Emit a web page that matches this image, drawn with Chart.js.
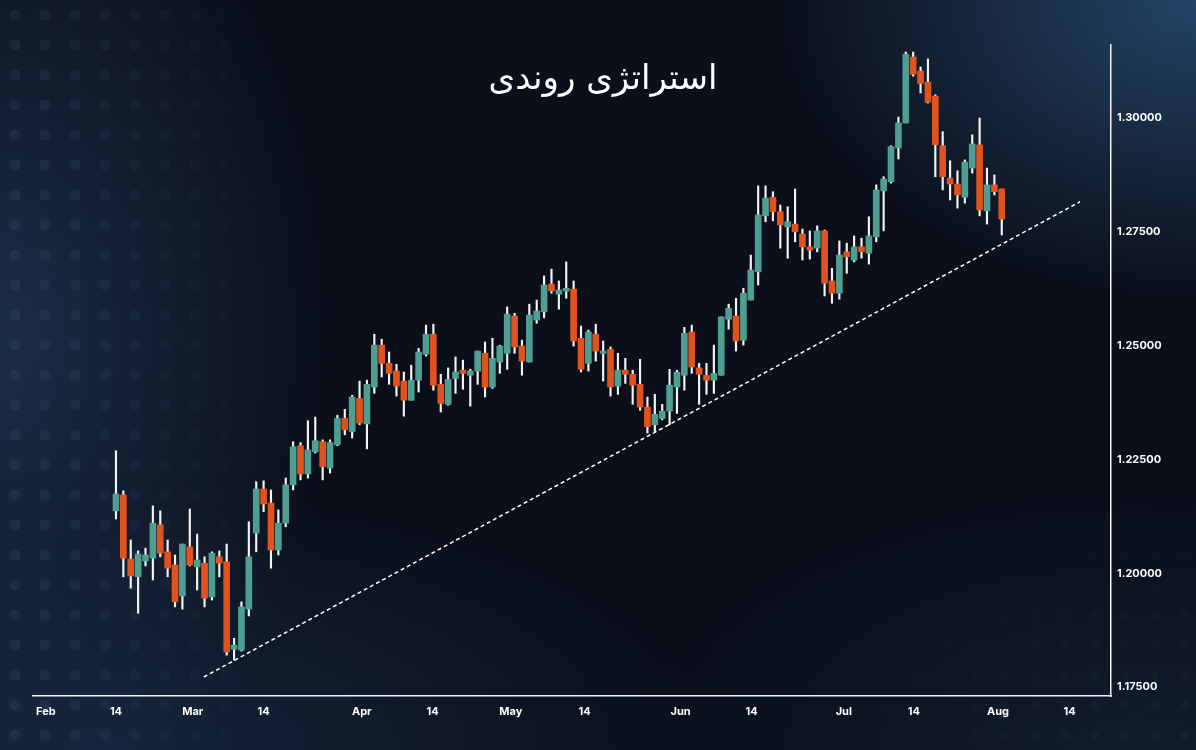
<!DOCTYPE html>
<html>
<head>
<meta charset="utf-8">
<script src="https://cdn.jsdelivr.net/npm/chart.js@4.4.1/dist/chart.umd.min.js"></script>
<style>
    html, body { margin: 0; padding: 0; }
    body {
        width: 1196px;
        height: 750px;
        overflow: hidden;
        position: relative;
        background:
            radial-gradient(ellipse 420px 300px at 100% 0%, rgba(42, 80, 120, 0.8), transparent),
            radial-gradient(ellipse 330px 520px at 0% 45%, rgba(30, 52, 80, 0.8), transparent),
            radial-gradient(ellipse 600px 260px at 10% 100%, rgba(24, 44, 70, 0.7), transparent),
            radial-gradient(ellipse 500px 260px at 95% 100%, rgba(20, 36, 58, 0.6), transparent),
            #0a0f1a;
    }
    .dots {
        position: absolute;
        inset: 0;
        background-image: radial-gradient(circle, rgba(120, 160, 200, 0.10) 5px, transparent 6px);
        background-size: 30px 30px;
        -webkit-mask-image: linear-gradient(90deg, rgba(0,0,0,1) 0px, rgba(0,0,0,0.5) 150px, transparent 280px);
        mask-image: linear-gradient(90deg, rgba(0,0,0,1) 0px, rgba(0,0,0,0.5) 150px, transparent 280px);
    }
    .dots2 {
        position: absolute;
        inset: 0;
        background-image: radial-gradient(circle, rgba(120, 160, 200, 0.06) 4px, transparent 5px);
        background-size: 30px 30px;
        -webkit-mask-image: radial-gradient(ellipse 380px 260px at 100% 100%, #000, transparent);
        mask-image: radial-gradient(ellipse 380px 260px at 100% 100%, #000, transparent);
    }
    #title {
        position: absolute;
        left: 0;
        width: 1206px;
        top: 57px;
        text-align: center;
        color: #ffffff;
        font-family: "DejaVu Sans", "Noto Sans", sans-serif;
        font-size: 34px;
        direction: rtl;
        z-index: 2;
    }
    canvas { position: absolute; left: 0; top: 0; z-index: 1; }
</style>
</head>
<body>
<div class="dots"></div>
<div class="dots2"></div>
<div id="title">استراتژی روندی</div>
<canvas id="chart" width="1196" height="750"></canvas>
<script>
// daily candles, index 0 = Feb 14
const opens = [
    1.2137, 1.2172, 1.2031, 1.1992, 1.2027, 1.2033, 1.2106, 1.2047, 1.2018, 1.1950,
    1.2058, 1.2014, 1.2022, 1.1948, 1.2036, 1.2025, 1.1833, 1.1831, 1.1921, 1.2088,
    1.2185, 1.2154, 1.2051, 1.2110, 1.2194, 1.2280, 1.2218, 1.2267, 1.2289, 1.2231,
    1.2282, 1.2340, 1.2311, 1.2384, 1.2328, 1.2409, 1.2501, 1.2461, 1.2444, 1.2422,
    1.2380, 1.2424, 1.2481, 1.2525, 1.2415, 1.2371, 1.2428, 1.2446, 1.2435, 1.2444,
    1.2483, 1.2409, 1.2464, 1.2483, 1.2565, 1.2499, 1.2464, 1.2556, 1.2574, 1.2635,
    1.2613, 1.2620, 1.2624, 1.2516, 1.2461, 1.2525, 1.2483, 1.2492, 1.2411, 1.2446,
    1.2437, 1.2415, 1.2365, 1.2326, 1.2340, 1.2356, 1.2409, 1.2435, 1.2530, 1.2451,
    1.2435, 1.2424, 1.2435, 1.2558, 1.2565, 1.2512, 1.2600, 1.2662, 1.2785, 1.2826,
    1.2794, 1.2761, 1.2767, 1.2745, 1.2717, 1.2714, 1.2752, 1.2642, 1.2615, 1.2706,
    1.2688, 1.2717, 1.2703, 1.2739, 1.2840, 1.2860, 1.2934, 1.2989, 1.3134, 1.3103,
    1.3079, 1.3048, 1.2939, 1.2868, 1.2855, 1.2826, 1.2890, 1.2941, 1.2796, 1.2853,
    1.2844
];
const highs = [
    1.2269, 1.2181, 1.2073, 1.2049, 1.2055, 1.2148, 1.2137, 1.2073, 1.2040, 1.2064,
    1.2141, 1.2086, 1.2036, 1.2047, 1.2049, 1.2064, 1.1857, 1.1937, 1.2113, 1.2201,
    1.2203, 1.2183, 1.2139, 1.2209, 1.2289, 1.2287, 1.2335, 1.2343, 1.2293, 1.2293,
    1.2347, 1.2360, 1.2391, 1.2422, 1.2424, 1.2525, 1.2514, 1.2486, 1.2459, 1.2442,
    1.2457, 1.2494, 1.2545, 1.2547, 1.2437, 1.2451, 1.2475, 1.2468, 1.2448, 1.2488,
    1.2508, 1.2516, 1.2501, 1.2585, 1.2571, 1.2512, 1.2591, 1.2600, 1.2653, 1.2668,
    1.2642, 1.2684, 1.2642, 1.2543, 1.2534, 1.2547, 1.2510, 1.2497, 1.2483, 1.2472,
    1.2446, 1.2470, 1.2387, 1.2393, 1.2371, 1.2448, 1.2446, 1.2540, 1.2545, 1.2461,
    1.2461, 1.2501, 1.2563, 1.2591, 1.2604, 1.2626, 1.2699, 1.2851, 1.2851, 1.2838,
    1.2809, 1.2805, 1.2844, 1.2756, 1.2752, 1.2763, 1.2754, 1.2670, 1.2730, 1.2725,
    1.2741, 1.2736, 1.2783, 1.2853, 1.2871, 1.2939, 1.3002, 1.3145, 1.3145, 1.3112,
    1.3130, 1.3051, 1.2970, 1.2906, 1.2884, 1.2908, 1.2963, 1.3000, 1.2890, 1.2875,
    1.2844
];
const lows = [
    1.2119, 1.1992, 1.1967, 1.1912, 1.2016, 1.1985, 1.2036, 1.1992, 1.1926, 1.1921,
    1.2016, 1.1963, 1.1926, 1.1941, 1.1992, 1.1820, 1.1809, 1.1829, 1.1906, 1.2047,
    1.2135, 1.2011, 1.2040, 1.2102, 1.2183, 1.2205, 1.2209, 1.2264, 1.2205, 1.2220,
    1.2280, 1.2304, 1.2297, 1.2326, 1.2273, 1.2395, 1.2431, 1.2415, 1.2389, 1.2345,
    1.2380, 1.2398, 1.2477, 1.2402, 1.2354, 1.2369, 1.2395, 1.2404, 1.2367, 1.2415,
    1.2387, 1.2406, 1.2439, 1.2448, 1.2483, 1.2435, 1.2464, 1.2549, 1.2561, 1.2615,
    1.2580, 1.2604, 1.2499, 1.2442, 1.2444, 1.2466, 1.2422, 1.2389, 1.2393, 1.2417,
    1.2371, 1.2358, 1.2308, 1.2311, 1.2337, 1.2326, 1.2351, 1.2402, 1.2439, 1.2371,
    1.2393, 1.2395, 1.2435, 1.2536, 1.2488, 1.2501, 1.2600, 1.2633, 1.2772, 1.2774,
    1.2714, 1.2692, 1.2728, 1.2688, 1.2690, 1.2706, 1.2609, 1.2593, 1.2602, 1.2659,
    1.2684, 1.2692, 1.2679, 1.2728, 1.2752, 1.2857, 1.2910, 1.2989, 1.3092, 1.3055,
    1.3033, 1.2871, 1.2842, 1.2820, 1.2802, 1.2813, 1.2879, 1.2785, 1.2767, 1.2831,
    1.2743
];
const closes = [
    1.2174, 1.2033, 1.1994, 1.2042, 1.2040, 1.2110, 1.2044, 1.2011, 1.1937, 1.2064,
    1.2018, 1.2029, 1.1945, 1.2044, 1.2022, 1.1827, 1.1842, 1.1926, 1.2036, 1.2185,
    1.2152, 1.2051, 1.2110, 1.2194, 1.2278, 1.2218, 1.2271, 1.2291, 1.2234, 1.2287,
    1.2340, 1.2315, 1.2387, 1.2330, 1.2415, 1.2501, 1.2461, 1.2439, 1.2411, 1.2380,
    1.2424, 1.2486, 1.2525, 1.2413, 1.2373, 1.2426, 1.2442, 1.2439, 1.2444, 1.2488,
    1.2409, 1.2472, 1.2499, 1.2569, 1.2497, 1.2466, 1.2567, 1.2576, 1.2633, 1.2620,
    1.2622, 1.2626, 1.2510, 1.2448, 1.2530, 1.2488, 1.2488, 1.2409, 1.2446, 1.2437,
    1.2413, 1.2365, 1.2322, 1.2349, 1.2356, 1.2413, 1.2442, 1.2527, 1.2453, 1.2437,
    1.2424, 1.2439, 1.2563, 1.2582, 1.2510, 1.2615, 1.2666, 1.2787, 1.2824, 1.2794,
    1.2765, 1.2772, 1.2750, 1.2717, 1.2710, 1.2752, 1.2637, 1.2615, 1.2699, 1.2695,
    1.2717, 1.2706, 1.2741, 1.2842, 1.2866, 1.2937, 1.2989, 1.3140, 1.3096, 1.3076,
    1.3035, 1.2941, 1.2871, 1.2855, 1.2831, 1.2903, 1.2943, 1.2798, 1.2853, 1.2838,
    1.2778
];

// trend line end points (candle index, price)
const trendX = [11.9, 130.6];
const trendY = [1.1772, 1.2816];

// x axis ticks (candle index) and their labels
const xTickPos = [-9.5, 0, 10.4, 20.0, 33.3, 42.9, 53.5, 63.5, 76.5, 86.1, 98.6, 108.1, 119.5, 129.2];
const xTickLabels = ["Feb", "14", "Mar", "14", "Apr", "14", "May", "14", "Jun", "14", "Jul", "14", "Aug", "14"];
const yTicks = [1.175, 1.2, 1.225, 1.25, 1.275, 1.3];

const UP = "#4f9e91";
const DOWN = "#e0531f";
const AXIS = "#f2f2f2";
const tickFont = { family: "Inter, Roboto, sans-serif", size: 11, weight: "bold" };

const bodies = opens.map((o, i) => ({ x: i, y: [o, closes[i]] }));
const wicks = opens.map((o, i) => ({ x: i, y: [lows[i], highs[i]] }));
const bodyColors = opens.map((o, i) => (closes[i] >= o ? UP : DOWN));

new Chart(document.getElementById("chart"), {
    type: "bar",
    data: {
        datasets: [
            {
                // higher order is drawn first, so wicks sit under the bodies
                order: 3,
                data: wicks,
                backgroundColor: "#f4f4f4",
                barThickness: 1.5,
                grouped: false,
            },
            {
                order: 1,
                data: bodies,
                backgroundColor: bodyColors,
                barThickness: 6,
                grouped: false,
                borderSkipped: false,
            },
            {
                order: 2,
                type: "line",
                data: trendX.map((x, i) => ({ x, y: trendY[i] })),
                borderColor: "#ffffff",
                borderWidth: 1.5,
                borderDash: [4, 3],
                pointRadius: 0,
            },
        ],
    },
    options: {
        responsive: false,
        animation: false,
        layout: { padding: { left: 33, top: 45, right: 0, bottom: 0 } },
        plugins: {
            legend: { display: false },
            tooltip: { enabled: false },
        },
        scales: {
            x: {
                type: "linear",
                offset: false,
                min: -11.24,
                max: 134.8,
                grid: { display: false, drawTicks: false },
                border: { display: true, color: AXIS, width: 1.5 },
                afterBuildTicks: (scale) => {
                    scale.ticks = xTickPos.map((v) => ({ value: v }));
                },
                afterFit: (scale) => { scale.height = 54; },
                ticks: {
                    color: "#ffffff",
                    font: tickFont,
                    padding: 9,
                    maxRotation: 0,
                    autoSkip: false,
                    callback: (value, index) => xTickLabels[index],
                },
            },
            y: {
                position: "right",
                min: 1.17302,
                max: 1.31604,
                grid: { display: false, drawTicks: false },
                border: { display: true, color: AXIS, width: 1.5 },
                afterBuildTicks: (scale) => {
                    scale.ticks = yTicks.map((v) => ({ value: v }));
                },
                afterFit: (scale) => { scale.width = 85; },
                ticks: {
                    color: "#ffffff",
                    font: tickFont,
                    padding: 6,
                    callback: (value) => Number(value).toFixed(5),
                },
            },
        },
    },
});
</script>
</body>
</html>
